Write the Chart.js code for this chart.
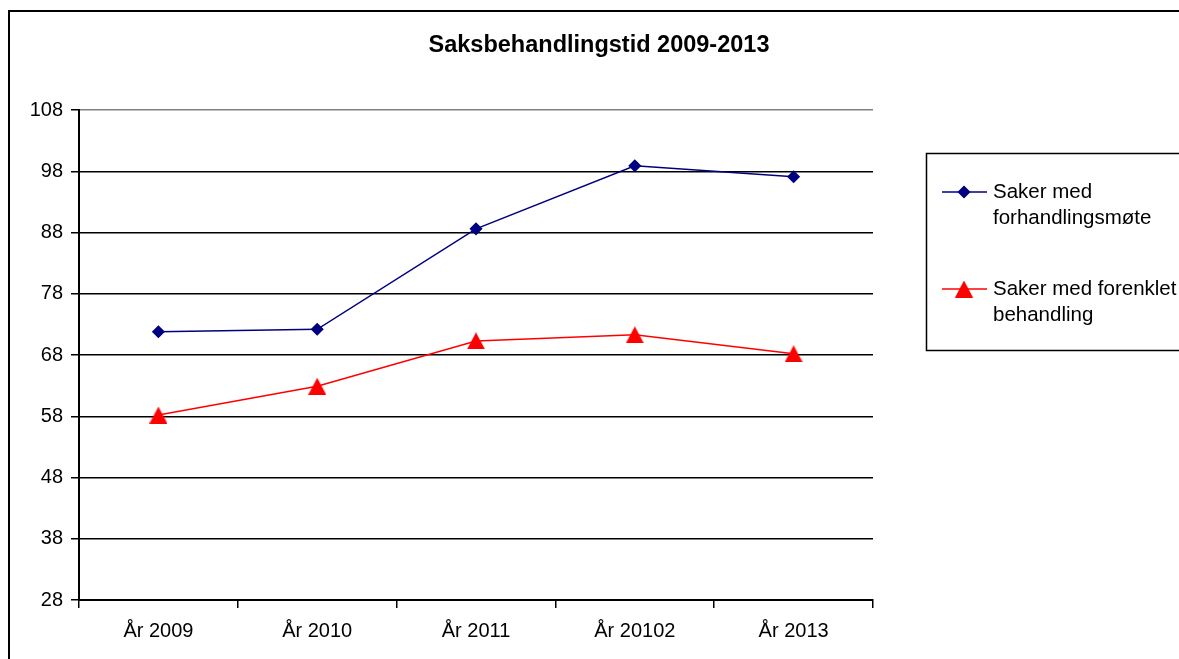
<!DOCTYPE html>
<html>
<head>
<meta charset="utf-8">
<script src="https://cdn.jsdelivr.net/npm/chart.js@4.4.1/dist/chart.umd.min.js"></script>
<style>
  html, body { margin:0; padding:0; background:#fff; overflow:hidden; }
  #wrap { position:absolute; left:0; top:0; width:1179px; height:659px; }
</style>
</head>
<body>
<div id="wrap"><canvas id="chart" width="1179" height="659"></canvas></div>
<script>
const chartTitle = 'Saksbehandlingstid 2009-2013';
const categories = ['År 2009', 'År 2010', 'År 2011', 'År 20102', 'År 2013'];
const forhandlingsmote = [71.8, 72.2, 88.6, 98.9, 97.1];
const forenklet = [58.2, 62.9, 70.3, 71.3, 68.2];
const seriesNames = [['Saker med', 'forhandlingsmøte'], ['Saker med forenklet', 'behandling']];
const yMin = 28, yMax = 108, yStep = 10;

const FONT = '"Liberation Sans", Arial, sans-serif';

// red triangle marker, centred on its box like the Excel one
const tri = document.createElement('canvas');
tri.width = 18; tri.height = 17;
(function () {
  const t = tri.getContext('2d');
  t.fillStyle = '#ff0000';
  t.beginPath();
  t.moveTo(9, 0); t.lineTo(18, 17); t.lineTo(0, 17); t.closePath();
  t.fill();
})();

// frame, title and legend box
const decor = {
  id: 'decor',
  beforeDraw(chart) {
    const c = chart.ctx;
    c.save();
    c.strokeStyle = '#000';
    c.lineWidth = 2;
    c.beginPath();
    c.moveTo(9, 670); c.lineTo(9, 11); c.lineTo(1190, 11);
    c.stroke();
    c.restore();
  },
  afterDraw(chart) {
    const c = chart.ctx;
    c.save();
    c.fillStyle = '#000';
    c.font = 'bold 23.5px ' + FONT;
    c.textAlign = 'center';
    c.textBaseline = 'middle';
    c.fillText(chartTitle, 599, 46);

    // legend
    c.strokeStyle = '#000';
    c.lineWidth = 1.5;
    c.strokeRect(926.5, 153.5, 300, 197);
    const rows = [192, 289];
    chart.data.datasets.forEach((ds, i) => {
      const y = rows[i];
      c.strokeStyle = ds.borderColor;
      c.lineWidth = ds.borderWidth;
      c.beginPath(); c.moveTo(942, y); c.lineTo(987, y); c.stroke();
      c.fillStyle = ds.pointBackgroundColor;
      c.strokeStyle = ds.pointBorderColor;
      Chart.helpers.drawPoint(c, { pointStyle: ds.pointStyle, radius: ds.pointRadius, borderWidth: 1 }, 964, y);
      c.fillStyle = '#000';
      c.font = '20.5px ' + FONT;
      c.textAlign = 'left';
      c.textBaseline = 'middle';
      seriesNames[i].forEach((t, k) => c.fillText(t, 993, y + k * 26));
    });
    c.restore();
  }
};

new Chart(document.getElementById('chart'), {
  type: 'line',
  data: {
    labels: categories,
    datasets: [
      {
        label: seriesNames[0].join(' '),
        data: forhandlingsmote,
        borderColor: '#000080',
        backgroundColor: '#000080',
        pointBackgroundColor: '#000080',
        pointBorderColor: '#000080',
        pointStyle: 'rectRot',
        pointRadius: 5.5,
        borderWidth: 1.5,
        tension: 0
      },
      {
        label: seriesNames[1].join(' '),
        data: forenklet,
        borderColor: '#ff0000',
        backgroundColor: '#ff0000',
        pointBackgroundColor: '#ff0000',
        pointBorderColor: '#ff0000',
        pointStyle: tri,
        pointRadius: 9,
        borderWidth: 1.5,
        tension: 0
      }
    ]
  },
  options: {
    responsive: false,
    animation: false,
    layout: { padding: { left: 0, right: 306, top: 110, bottom: 0 } },
    plugins: {
      legend: { display: false },
      title: { display: false },
      tooltip: { enabled: false }
    },
    scales: {
      x: {
        offset: true,
        afterFit(axis) { axis.height = 59; },
        grid: {
          offset: true,
          drawOnChartArea: true,
          color: ctx => ctx.index === categories.length ? '#808080' : 'rgba(0,0,0,0)',
          tickColor: '#000',
          tickLength: 8,
          lineWidth: 1.5
        },
        border: { color: '#000', width: 2 },
        ticks: { color: '#000', font: { family: FONT, size: 20 }, padding: 11, maxRotation: 0 }
      },
      y: {
        min: yMin,
        max: yMax,
        afterFit(axis) { axis.width = 79; },
        grid: {
          color: ctx => ctx.tick && ctx.tick.value === yMax ? '#808080' : '#000',
          tickColor: '#000',
          tickLength: 8,
          lineWidth: 1.5
        },
        border: { color: '#000', width: 2 },
        ticks: { stepSize: yStep, color: '#000', font: { family: FONT, size: 20 }, padding: 8 }
      }
    }
  },
  plugins: [decor]
});
</script>
</body>
</html>
